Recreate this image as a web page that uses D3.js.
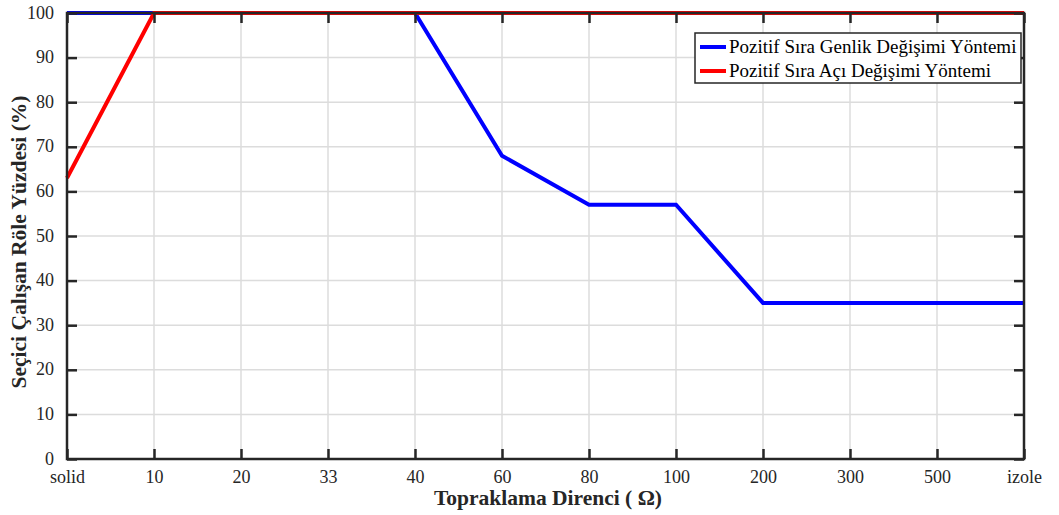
<!DOCTYPE html>
<html lang="en">
<head>
<meta charset="UTF-8">
<title>Seçici Çalışan Röle Yüzdesi</title>
<script src="https://d3js.org/d3.v7.min.js"></script>
<style>
    body { margin: 0; background: #fff; }
    svg, svg text { font-family: "Liberation Serif", "Times New Roman", serif; }
    .tick text { font-size: 18px; fill: #262626; font-family: "Liberation Serif", serif; }
</style>
</head>
<body>
<svg width="1059" height="515"></svg>
<script>
    // data
    let categories = ["solid", "10", "20", "33", "40", "60", "80", "100", "200", "300", "500", "izole"];
    let genlik = [100, 100, 100, 100, 100, 68, 57, 57, 35, 35, 35, 35];
    let aci = [63, 100, 100, 100, 100, 100, 100, 100, 100, 100, 100, 100];
    let yTicks = [0, 10, 20, 30, 40, 50, 60, 70, 80, 90, 100];
    let seriesNames = ["Pozitif Sıra Genlik Değişimi Yöntemi", "Pozitif Sıra Açı Değişimi Yöntemi"];
    let seriesColors = ["#0000ff", "#ff0000"];

    let svg = d3.select("svg");
    let m = {left: 67, right: 35, top: 13, bottom: 56};
    let W = 1059, H = 515;
    let axisColor = "#262626";
    let serif = "'Liberation Serif', 'Times New Roman', serif";

    let x = d3.scalePoint().domain(categories).range([m.left, W - m.right]);
    let y = d3.scaleLinear().domain([0, 100]).range([H - m.bottom, m.top]);

    // grid
    let grid = svg.append("g");
    grid.selectAll(".gx").data(categories).enter().append("line")
        .attr("x1", d => x(d)).attr("x2", d => x(d))
        .attr("y1", y(0)).attr("y2", y(100))
        .attr("stroke", "#dcdcdc").attr("stroke-width", 1.5);
    grid.selectAll(".gy").data(yTicks).enter().append("line")
        .attr("x1", x.range()[0]).attr("x2", x.range()[1])
        .attr("y1", d => y(d)).attr("y2", d => y(d))
        .attr("stroke", "#dcdcdc").attr("stroke-width", 1.5);

    // lines
    let line = d3.line().x((d, i) => x(categories[i])).y(d => y(d));
    [genlik, aci].forEach(function (s, i) {
        svg.append("path").datum(s)
            .attr("d", line)
            .attr("fill", "none")
            .attr("stroke", seriesColors[i])
            .attr("stroke-width", 4)
            .attr("stroke-linejoin", "miter");
    });

    // axes (ticks pointing inward)
    let xAxis = svg.append("g")
        .attr("transform", "translate(0," + y(0) + ")")
        .call(d3.axisBottom(x).tickSize(-10).tickPadding(20));
    let xTop = svg.append("g")
        .attr("transform", "translate(0," + y(100) + ")")
        .call(d3.axisTop(x).tickSize(-10).tickFormat(""));
    let yAxis = svg.append("g")
        .attr("transform", "translate(" + x.range()[0] + ",0)")
        .call(d3.axisLeft(y).tickValues(yTicks).tickSize(-10).tickPadding(16));
    let yRight = svg.append("g")
        .attr("transform", "translate(" + x.range()[1] + ",0)")
        .call(d3.axisRight(y).tickValues(yTicks).tickSize(-10).tickFormat(""));
    [xAxis, xTop, yAxis, yRight].forEach(function (g) {
        g.attr("font-family", serif).attr("font-size", 18);
        g.select(".domain").remove();
        g.selectAll(".tick line").attr("stroke", axisColor).attr("stroke-width", 2.5);
    });
    xAxis.selectAll(".tick text").attr("dy", "0.2em");
    yAxis.selectAll(".tick text").attr("dx", "3px").attr("dy", "0.28em");

    // box
    svg.append("rect")
        .attr("x", x.range()[0]).attr("y", y(100))
        .attr("width", x.range()[1] - x.range()[0])
        .attr("height", y(0) - y(100))
        .attr("fill", "none").attr("stroke", axisColor).attr("stroke-width", 2.5);

    // axis labels
    svg.append("text")
        .attr("x", 548).attr("y", 505)
        .attr("text-anchor", "middle").attr("font-family", serif)
        .style("font-size", "21.5px").style("font-weight", "bold").attr("fill", axisColor)
        .text("Topraklama Direnci ( Ω)");
    svg.append("text")
        .attr("transform", "translate(26,242) rotate(-90)")
        .attr("text-anchor", "middle").attr("font-family", serif)
        .style("font-size", "21.5px").style("font-weight", "bold").attr("fill", axisColor)
        .text("Seçici Çalışan Röle Yüzdesi (%)");

    // legend
    let lg = svg.append("g").attr("transform", "translate(695,33)");
    lg.append("rect").attr("width", 326).attr("height", 50)
        .attr("fill", "#fff").attr("stroke", axisColor).attr("stroke-width", 1.5);
    seriesNames.forEach(function (n, i) {
        let yy = 14 + i * 24;
        lg.append("line").attr("x1", 5).attr("x2", 31).attr("y1", yy).attr("y2", yy)
            .attr("stroke", seriesColors[i]).attr("stroke-width", 4);
        lg.append("text").attr("x", 34).attr("y", yy + 6).attr("font-family", serif)
            .style("font-size", "19px").attr("fill", "#000").text(n);
    });
</script>
</body>
</html>
